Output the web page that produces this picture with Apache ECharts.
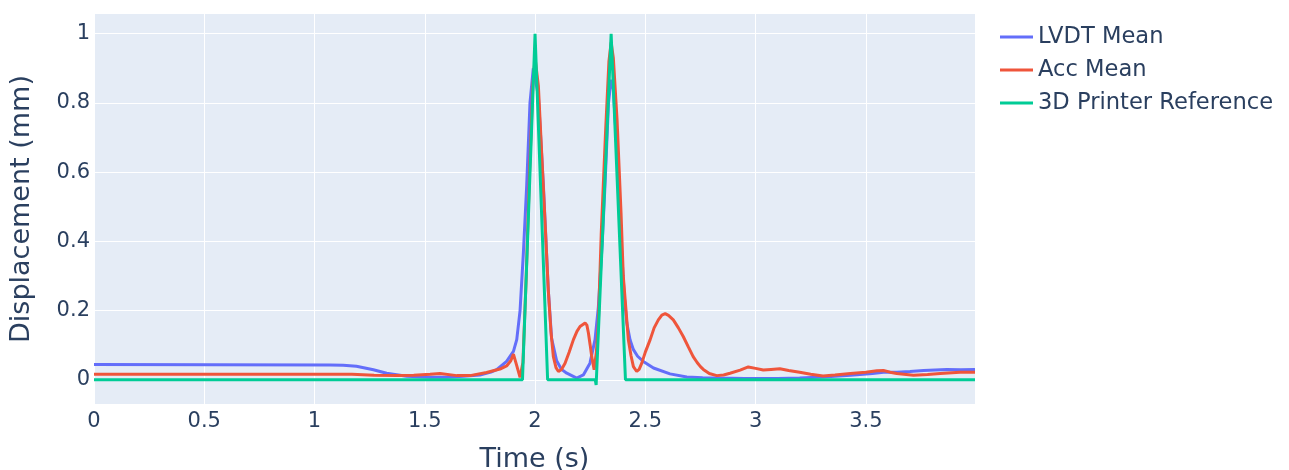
<!DOCTYPE html>
<html>
<head>
<meta charset="utf-8">
<script src="https://cdn.jsdelivr.net/npm/echarts@6/dist/echarts.min.js"></script>
<style>html,body{margin:0;padding:0;background:#fff}#c{width:1289px;height:470px}</style>
</head>
<body>
<div id="c"></div>
<script>
// LVDT Mean
const lvdtT = [0, 1.07, 1.13, 1.19, 1.267, 1.327, 1.418, 1.524, 1.60, 1.675, 1.75, 1.80, 1.826, 1.871, 1.902, 1.917, 1.932, 1.947, 1.962, 1.977, 1.992, 2.0, 2.015, 2.038, 2.06, 2.075, 2.098, 2.12, 2.144, 2.189, 2.219, 2.249, 2.272, 2.287, 2.305, 2.317, 2.333, 2.345, 2.355, 2.372, 2.393, 2.405, 2.416, 2.431, 2.446, 2.465, 2.491, 2.537, 2.612, 2.688, 2.76, 2.839, 2.95, 3.1, 3.2, 3.306, 3.43, 3.53, 3.58, 3.64, 3.70, 3.762, 3.867, 3.93, 3.995];
const lvdtV = [0.044, 0.043, 0.042, 0.039, 0.029, 0.019, 0.010, 0.007, 0.007, 0.010, 0.014, 0.022, 0.029, 0.053, 0.082, 0.116, 0.20, 0.366, 0.56, 0.80, 0.90, 0.90, 0.82, 0.56, 0.26, 0.12, 0.055, 0.03, 0.019, 0.005, 0.014, 0.048, 0.116, 0.21, 0.40, 0.56, 0.80, 0.867, 0.84, 0.656, 0.366, 0.24, 0.164, 0.115, 0.087, 0.068, 0.053, 0.034, 0.017, 0.008, 0.006, 0.005, 0.004, 0.004, 0.005, 0.008, 0.013, 0.018, 0.022, 0.022, 0.024, 0.027, 0.030, 0.029, 0.030];
// Acc Mean
const accT = [0, 1.17, 1.27, 1.373, 1.45, 1.524, 1.569, 1.645, 1.705, 1.78, 1.841, 1.871, 1.89, 1.902, 1.915, 1.932, 1.945, 1.96, 1.975, 1.99, 2.0, 2.015, 2.03, 2.045, 2.06, 2.072, 2.083, 2.095, 2.106, 2.12, 2.136, 2.155, 2.174, 2.19, 2.204, 2.227, 2.235, 2.242, 2.25, 2.257, 2.268, 2.278, 2.287, 2.30, 2.32, 2.335, 2.345, 2.355, 2.372, 2.39, 2.40, 2.41, 2.423, 2.435, 2.446, 2.461, 2.472, 2.484, 2.50, 2.522, 2.54, 2.559, 2.575, 2.59, 2.605, 2.627, 2.65, 2.672, 2.695, 2.717, 2.735, 2.75, 2.763, 2.79, 2.824, 2.855, 2.884, 2.93, 2.967, 3.0, 3.035, 3.07, 3.11, 3.15, 3.2, 3.25, 3.306, 3.36, 3.43, 3.5, 3.55, 3.58, 3.61, 3.64, 3.716, 3.78, 3.837, 3.927, 3.995];
const accV = [0.016, 0.016, 0.013, 0.012, 0.013, 0.016, 0.018, 0.012, 0.012, 0.021, 0.031, 0.040, 0.055, 0.074, 0.045, 0.007, 0.05, 0.30, 0.60, 0.85, 0.93, 0.85, 0.656, 0.46, 0.26, 0.14, 0.067, 0.035, 0.024, 0.03, 0.048, 0.08, 0.116, 0.14, 0.154, 0.164, 0.158, 0.135, 0.10, 0.067, 0.029, 0.08, 0.164, 0.42, 0.72, 0.92, 0.975, 0.93, 0.75, 0.48, 0.30, 0.22, 0.116, 0.07, 0.038, 0.024, 0.03, 0.048, 0.08, 0.116, 0.15, 0.173, 0.187, 0.191, 0.186, 0.173, 0.15, 0.125, 0.095, 0.067, 0.05, 0.038, 0.03, 0.018, 0.012, 0.014, 0.019, 0.028, 0.037, 0.033, 0.028, 0.030, 0.032, 0.027, 0.022, 0.016, 0.011, 0.014, 0.018, 0.022, 0.026, 0.027, 0.022, 0.018, 0.013, 0.015, 0.018, 0.022, 0.022];
// 3D Printer Reference
const refT = [0, 1.943, 2.0, 2.057, 2.273, 2.277, 2.345, 2.41, 3.995];
const refV = [0, 0, 1, 0, 0, -0.015, 1, 0, 0];

const seriesNames = ['LVDT Mean', 'Acc Mean', '3D Printer Reference'];
const xTicks = [0, 0.5, 1, 1.5, 2, 2.5, 3, 3.5];
const yTicks = [0, 0.2, 0.4, 0.6, 0.8, 1];

const zip = (t, v) => t.map((x, i) => [x, v[i]]);
const colors = ['#636efa', '#EF553B', '#00cc96'];
const txt = '#2a3f5f';
const font = '"DejaVu Sans", Verdana, sans-serif';

const chart = echarts.init(document.getElementById('c'), null, {renderer: 'canvas'});
chart.setOption({
  animation: false,
  backgroundColor: '#ffffff',
  textStyle: {fontFamily: font, color: txt},
  grid: {left: 94, right: 314, top: 14, bottom: 66, show: true, backgroundColor: '#E5ECF6', borderWidth: 0,
    containLabel: false, outerBoundsMode: 'none'},
  legend: {
    orient: 'vertical', left: 995, top: 19, itemWidth: 33, itemHeight: 3, itemGap: 7,
    icon: 'rect',
    data: seriesNames,
    textStyle: {color: txt, fontSize: 22.6, fontFamily: font, lineHeight: 26}
  },
  xAxis: {
    type: 'value', min: 0, max: 3.995, interval: 0.5,
    name: 'Time (s)', nameLocation: 'middle', nameGap: 42,
    nameTextStyle: {fontSize: 27, color: txt, fontFamily: font},
    axisLine: {show: false}, axisTick: {show: false},
    axisLabel: {color: txt, fontSize: 21, margin: 7, fontFamily: font, showMaxLabel: false,
      formatter: v => xTicks.includes(+v.toFixed(3)) ? String(+v.toFixed(3)) : ''},
    splitLine: {show: true, lineStyle: {color: '#ffffff', width: 1}}
  },
  yAxis: {
    type: 'value', min: -0.07, max: 1.057,
    name: 'Displacement (mm)', nameLocation: 'middle', nameGap: 59,
    nameTextStyle: {fontSize: 27, color: txt, fontFamily: font},
    axisLine: {show: false},
    axisTick: {show: false, customValues: yTicks},
    axisLabel: {color: txt, fontSize: 21, margin: 4, fontFamily: font, customValues: yTicks,
      formatter: v => String(+v.toFixed(3))},
    splitLine: {show: true, lineStyle: {color: '#ffffff', width: 1}}
  },
  series: [
    {name: seriesNames[0], type: 'line', data: zip(lvdtT, lvdtV), showSymbol: false, symbol: 'none',
      lineStyle: {color: colors[0], width: 3}, itemStyle: {color: colors[0]}},
    {name: seriesNames[1], type: 'line', data: zip(accT, accV), showSymbol: false, symbol: 'none',
      lineStyle: {color: colors[1], width: 3}, itemStyle: {color: colors[1]}},
    {name: seriesNames[2], type: 'line', data: zip(refT, refV), showSymbol: false, symbol: 'none',
      lineStyle: {color: colors[2], width: 3}, itemStyle: {color: colors[2]}}
  ]
});
</script>
</body>
</html>
